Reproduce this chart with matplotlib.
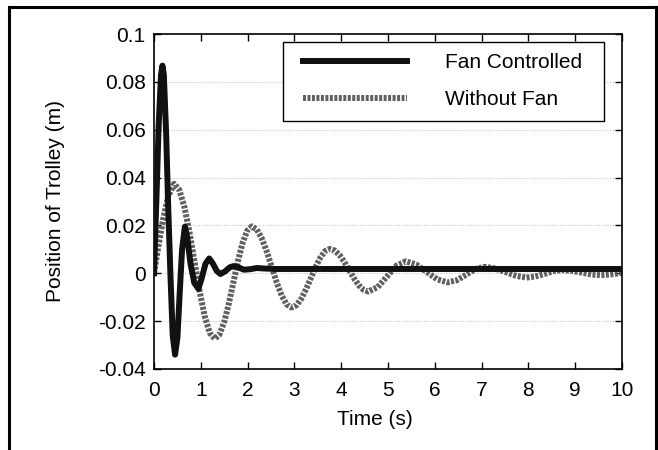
import numpy as np
import matplotlib
matplotlib.use("Agg")
import matplotlib.pyplot as plt
from matplotlib.patches import Rectangle
from matplotlib.lines import Line2D

# Fan controlled response
t_fan = [0.0, 0.05, 0.10, 0.15, 0.18, 0.21, 0.26, 0.30, 0.35, 0.40, 0.45, 0.50,
         0.55, 0.60, 0.66, 0.71, 0.78, 0.86, 0.95, 1.02, 1.10, 1.18, 1.26, 1.34,
         1.42, 1.52, 1.62, 1.70, 1.80, 1.92, 2.05, 2.20, 2.35, 2.60, 10.0]
y_fan = [0.0, 0.030, 0.062, 0.083, 0.0868, 0.083, 0.058, 0.030, 0.000, -0.026, -0.034, -0.027,
         -0.008, 0.010, 0.0195, 0.015, 0.004, -0.004, -0.0065, -0.002, 0.004, 0.0062, 0.004, 0.001,
         -0.0003, 0.0008, 0.0025, 0.0030, 0.0025, 0.0015, 0.0017, 0.0022, 0.0020, 0.0018, 0.0018]

# Without fan response
t_nofan = [0.0, 0.10, 0.20, 0.30, 0.43, 0.539, 0.648, 0.756, 0.865, 0.974, 1.083, 1.191, 1.30,
           1.399, 1.498, 1.596, 1.695, 1.794, 1.893, 1.991, 2.09,
           2.196, 2.303, 2.409, 2.515, 2.621, 2.728, 2.834, 2.94,
           3.043, 3.145, 3.248, 3.35, 3.453, 3.555, 3.657, 3.76,
           3.863, 3.965, 4.068, 4.17, 4.273, 4.375, 4.478, 4.58,
           4.78, 4.98, 5.18, 5.38, 5.60, 5.825, 6.048, 6.27,
           6.47, 6.67, 6.87, 7.07, 7.29, 7.515, 7.74, 7.96,
           8.15, 8.34, 8.53, 8.72, 8.93, 9.135, 9.34, 9.55, 9.75, 10.0]
y_nofan = [0.0, 0.012, 0.023, 0.032, 0.0374, 0.0349, 0.0279, 0.0174, 0.005, -0.0074, -0.0179, -0.0249, -0.0274,
           -0.0256, -0.0205, -0.0129, -0.0039, 0.0051, 0.0127, 0.0178, 0.0196,
           0.0183, 0.0146, 0.0091, 0.0027, -0.0038, -0.0093, -0.0130, -0.0143,
           -0.0134, -0.0107, -0.0067, -0.0021, 0.0026, 0.0066, 0.0093, 0.0102,
           0.0095, 0.0076, 0.0047, 0.0013, -0.0021, -0.0050, -0.0069, -0.0076,
           -0.0058, -0.0013, 0.0032, 0.0050, 0.0037, 0.0006, -0.0025, -0.0038,
           -0.0029, -0.0006, 0.0018, 0.0027, 0.0020, 0.0005, -0.0011, -0.0018,
           -0.0013, -0.0003, 0.0009, 0.0013, 0.0010, 0.0003, -0.0005, -0.0008, -0.0005, 0.0002]

labels = ['Fan Controlled', 'Without Fan']
xticks = np.arange(0, 11, 1)
yticks = [-0.04, -0.02, 0, 0.02, 0.04, 0.06, 0.08, 0.1]
ytick_labels = ['-0.04', '-0.02', '0', '0.02', '0.04', '0.06', '0.08', '0.1']

plt.rcParams['font.family'] = ['Liberation Sans', 'DejaVu Sans']
plt.rcParams['font.size'] = 15

fig = plt.figure(figsize=(6.58, 4.5), dpi=100)
ax = fig.add_axes([154/658, 1-369/450, 468/658, 335/450])

ax.plot(t_fan, y_fan, color='#111111', lw=4.3, solid_joinstyle='round', label=labels[0], zorder=3)
ax.plot(t_nofan, y_nofan, color='#606060', lw=4.3, linestyle=(0, (0.5, 0.25)),
        dash_capstyle='butt', label=labels[1], zorder=2)

ax.set_xlim(0, 10)
ax.set_ylim(-0.04, 0.1)
ax.set_xticks(xticks)
ax.set_yticks(yticks)
ax.set_yticklabels(ytick_labels)
for g in yticks[1:-1]:
    ax.axhline(g, color='#c4c4c4', lw=0.8, linestyle=(0, (1, 1.5)), zorder=1)

ax.tick_params(direction='in', length=5, width=1, top=True, right=True)
ax.tick_params(axis='x', pad=9)
ax.tick_params(axis='y', pad=6)
for s in ax.spines.values():
    s.set_linewidth(1.2)

ax.set_xlabel('Time (s)')
ax.xaxis.set_label_coords((375-154)/468, (369-410)/335)
ax.set_ylabel('Position of Trolley (m)')
ax.yaxis.set_label_coords((65-154)/468, 0.5)

# legend
ax.add_patch(Rectangle((0.2756, 0.740), 0.9615-0.2756, 0.976-0.740, transform=ax.transAxes,
                       fill=True, facecolor='white', edgecolor='black', lw=1.0, zorder=5))
leg = ax.legend(loc='upper left', bbox_to_anchor=((303-154)/468, (369-53)/335), frameon=False,
                handlelength=5.0, handletextpad=1.8, labelspacing=0.88, borderpad=0, borderaxespad=0)
leg.set_zorder(6)

# outer border
for xs, ys in [([9/658, 9/658], [0, 1-7/450]), ([9/658, 656/658], [1-7/450, 1-7/450]),
               ([656/658, 656/658], [1-7/450, 0])]:
    fig.add_artist(Line2D(xs, ys, color='black', lw=2.2))

fig.savefig('out.png', dpi=100)
